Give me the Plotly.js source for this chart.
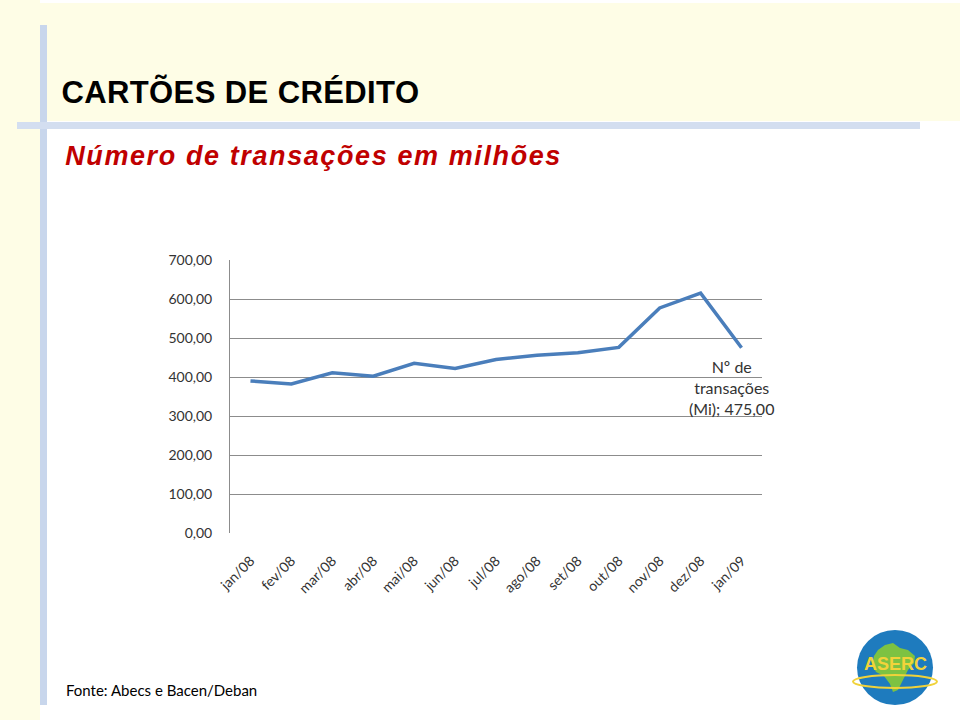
<!DOCTYPE html>
<html>
<head>
<meta charset="utf-8">
<script src="https://cdn.plot.ly/plotly-3.0.1.min.js"></script>
<style>
html,body{margin:0;padding:0;background:#fff;}
#chart{width:960px;height:720px;}
g.annotation[data-index="0"] text{letter-spacing:0.4px;}
g.annotation[data-index="1"] text{letter-spacing:1.6px;}
</style>
</head>
<body>
<div id="chart"></div>
<script>
// ---- data ----
const months = ["jan/08","fev/08","mar/08","abr/08","mai/08","jun/08","jul/08","ago/08","set/08","out/08","nov/08","dez/08","jan/09"];
const transacoes = [390, 382, 411, 402, 435, 422, 445, 456, 462, 476, 577, 615, 475];
const yTicks = [0, 100, 200, 300, 400, 500, 600, 700];
const seriesName = "Nº de transações (Mi)";
const titleText = "CARTÕES DE CRÉDITO";
const subtitleText = "Número de transações em milhões";
const sourceText = "Fonte: Abecs e Bacen/Deban";

// ---- geometry helpers (pixel -> paper) ----
const L = 230, R = 762, T = 260, B = 533;
const W = 960, H = 720;
const px = v => (v - L) / (R - L);
const py = v => (B - v) / (B - T);
function rect(x0, y0, x1, y1, color) {
  return {type: "rect", xref: "paper", yref: "paper", x0: px(x0), x1: px(x1), y0: py(y1), y1: py(y0),
          fillcolor: color, line: {width: 0}, layer: "below"};
}
function pathFrom(pts) {
  return pts.map((p, i) => (i ? "L" : "M") + px(p[0]).toFixed(4) + "," + py(p[1]).toFixed(4)).join(" ") + " Z";
}

const lastIdx = transacoes.length - 1;
const lastLabel = "Nº de<br>transações<br>(Mi); " + transacoes[lastIdx].toFixed(2).replace(".", ",");

const brazil = [[878,650],[885,645],[893,643],[900,648],[908,650],[915,656],[914,663],[908,670],[903,680],[898,690],[893,692],[890,684],[884,676],[876,672],[872,664],[874,656]];

const shapes = [
  rect(0, 3, 960, 121, "#FEFDE6"),
  rect(0, 0, 40, 720, "#FEFDE6"),
  rect(40, 25, 47, 705, "#C8D6EC"),
  rect(17, 122, 920, 129, "#D3DEF0"),
  {type: "circle", xref: "paper", yref: "paper", x0: px(857), x1: px(933), y0: py(705), y1: py(630),
   fillcolor: "#1E7BBE", line: {width: 0}},
  {type: "path", xref: "paper", yref: "paper", path: pathFrom(brazil), fillcolor: "#7DC242", line: {width: 0}},
  {type: "circle", xref: "paper", yref: "paper", x0: px(853), x1: px(937), y0: py(688), y1: py(675),
   fillcolor: "rgba(0,0,0,0)", line: {width: 2, color: "#F0D23A"}}
];

const annotations = [
  {xref: "paper", yref: "paper", x: px(59), y: py(92), xanchor: "left", yanchor: "middle", showarrow: false,
   xshift: 3.5,
   text: "<b>" + titleText + "</b>", font: {family: "Liberation Sans, Arial", size: 31, color: "#000"}},
  {xref: "paper", yref: "paper", x: px(63), y: py(156), xanchor: "left", yanchor: "middle", showarrow: false,
   xshift: 25,
   text: "<b><i>" + subtitleText + "</i></b>", font: {family: "Liberation Sans, Arial", size: 27, color: "#C00000"}},
  {xref: "paper", yref: "paper", x: px(64), y: py(690), xanchor: "left", yanchor: "middle", showarrow: false,
   text: sourceText, font: {family: "Lato, Open Sans", size: 15, color: "#000"}},
  {xref: "paper", yref: "paper", x: px(895), y: py(664), xanchor: "center", yanchor: "middle", showarrow: false,
   text: "<b>ASERC</b>", font: {family: "Liberation Sans Narrow, Liberation Sans", size: 18, color: "#F2D33A"}},
  {xref: "x", yref: "y", x: months[lastIdx], y: transacoes[lastIdx], xanchor: "center", yanchor: "top",
   xshift: -10, yshift: -7, showarrow: false, align: "center", text: lastLabel,
   font: {family: "Lato, Open Sans", size: 16, color: "#333333"}}
];

const trace = {
  type: "scatter", mode: "lines", x: months, y: transacoes, name: seriesName,
  line: {color: "#4A7EBB", width: 3.5}, hoverinfo: "x+y"
};

const layout = {
  width: W, height: H,
  margin: {l: L, r: W - R, t: T, b: H - B, pad: 0},
  paper_bgcolor: "#FFFFFF", plot_bgcolor: "rgba(0,0,0,0)",
  showlegend: false,
  separators: ",.",
  xaxis: {
    type: "category", range: [-0.5, months.length - 0.5], tickangle: -45,
    showgrid: false, zeroline: false, showline: false,
    ticks: "", ticklabelstandoff: 16,
    tickfont: {family: "Lato, Open Sans", size: 14, color: "#333"}
  },
  yaxis: {
    range: [0, 700], tickvals: yTicks, tickformat: ".2f",
    showgrid: true, gridcolor: "#8C8C8C", gridwidth: 1,
    zeroline: false, showline: true, linecolor: "#8C8C8C", linewidth: 1,
    ticks: "", ticklabelstandoff: 14,
    tickfont: {family: "Lato, Open Sans", size: 14, color: "#333"}
  },
  shapes: shapes,
  annotations: annotations
};

Plotly.newPlot("chart", [trace], layout, {displayModeBar: false, staticPlot: true});
</script>
</body>
</html>
